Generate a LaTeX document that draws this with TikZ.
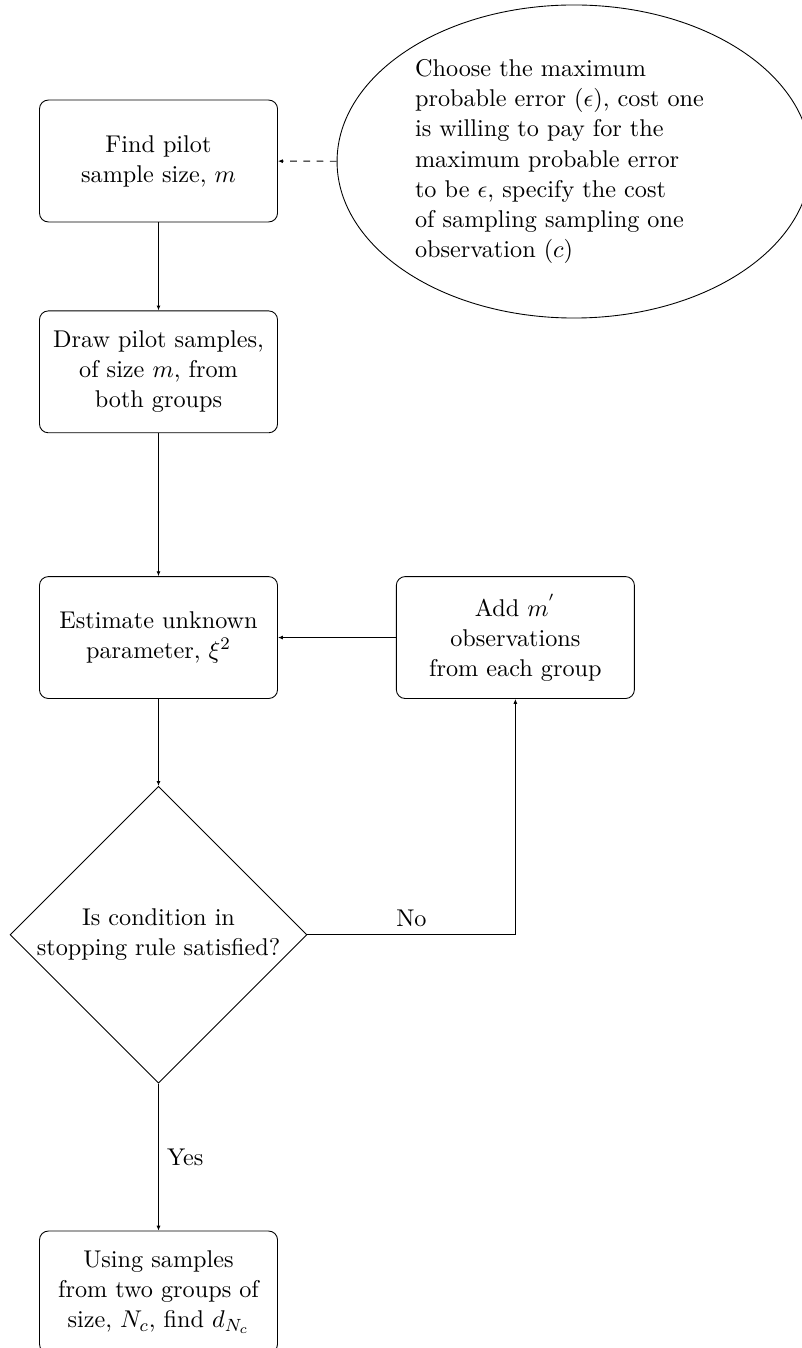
\documentclass[11pt,tikz,border=0pt]{standalone}
\usepackage{amsmath, amssymb}
\usepackage{tikz}
\usetikzlibrary{arrows.meta, positioning, shapes.geometric}
\tikzset{
  node/.style={draw, rectangle, rounded corners, minimum width=107.6pt, minimum height=55.1pt, align=center},
  process/.style={node},
  decision/.style={draw, diamond, aspect=1, inner sep=0pt, minimum width=134.2pt, minimum height=134.2pt, align=center},
  note/.style={draw, ellipse, inner sep=0pt, minimum width=214.2pt, minimum height=141.5pt, text width=143.7pt, align=left},
  flow/.style={-{Latex[length=2.2pt, width=1.8pt]}},
  hint/.style={flow, dashed},
}

\begin{document}
\begin{tikzpicture}[x=0.452pt, y=-0.452pt]
  \useasboundingbox (0,0) rectangle (801,1348);

  \node[process] (pilot) at (158.5,161) {Find pilot\\ sample size, $m$};
  \node[note] (choose) at (574,161.5) {Choose the maximum\\ probable error ($\epsilon$), cost one\\ is willing to pay for the\\ maximum probable error\\ to be $\epsilon$, specify the cost\\ of sampling sampling one\\ observation ($c$)};
  \node[process, below=39.8pt of pilot] (draw) {Draw pilot samples,\\ of size $m$, from\\ both groups};
  \node[process, below=64.6pt of draw] (estimate) {Estimate unknown\\ parameter, $\xi^2$};
  \node[process, right=53.3pt of estimate] (add) {Add $m^{'}$\\ observations\\ from each group};
  \node[decision, below=39.3pt of estimate] (check) {Is condition in\\ stopping rule satisfied?};
  \node[process, below=66.4pt of check] (result) {Using samples\\ from two groups of\\ size, $N_c$, find $d_{N_c}$};

  \draw[hint] (choose) -- (pilot);
  \draw[flow] (pilot) -- (draw);
  \draw[flow] (draw) -- (estimate);
  \draw[flow] (estimate) -- (check);
  \draw[flow] (check) -- node[right]{Yes} (result);
  \draw[flow] (check) -| node[pos=0.25, above]{No} (add);
  \draw[flow] (add) -- (estimate);
\end{tikzpicture}
\end{document}
